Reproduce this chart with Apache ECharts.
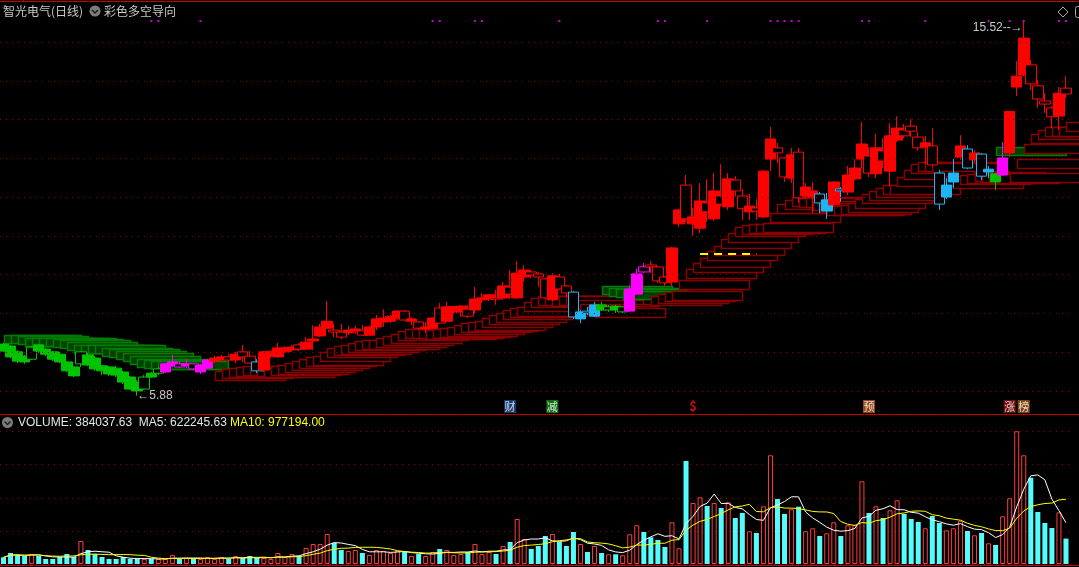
<!DOCTYPE html>
<html><head><meta charset="utf-8">
<script src="https://cdn.jsdelivr.net/npm/echarts/dist/echarts.min.js"></script>
<style>html,body{margin:0;padding:0;background:#000;}#c{width:1079px;height:567px;}</style>
</head><body><div id="c"></div>
<script>
// ---------------- data ----------------
const opens = [
7.21,7.16,7.01,6.90,6.82,7.19,7.08,7.01,6.95,6.75,
6.62,6.70,6.93,6.85,6.65,6.62,6.59,6.49,6.36,6.23,
6.05,6.46,6.46,6.49,6.65,6.70,6.65,6.70,6.49,6.59,
6.77,6.80,6.88,6.80,7.01,6.90,6.75,6.54,6.90,6.88,
7.01,7.06,7.19,7.08,7.29,7.42,7.62,7.57,7.52,7.50,
7.55,7.55,7.44,7.65,7.78,7.80,7.88,8.06,7.80,7.78,
7.60,7.62,8.14,7.80,8.04,8.04,8.11,8.09,8.35,8.37,
8.40,8.40,8.68,8.40,8.94,9.07,9.02,8.89,8.35,8.94,
8.71,8.55,7.86,8.06,7.93,8.22,8.09,8.19,8.04,8.06,
8.50,9.20,9.25,9.20,8.94,8.81,10.31,11.31,10.31,10.20,
10.85,10.44,11.03,10.75,11.44,11.03,10.62,10.72,10.49,11.98,
12.27,12.01,11.49,12.16,11.03,11.00,11.08,10.64,10.80,11.21,
11.13,11.47,11.98,12.06,11.60,12.19,11.67,12.47,12.73,12.83,
12.55,12.29,12.32,11.62,11.00,11.39,12.03,12.24,11.96,12.11,
11.65,11.60,11.57,12.14,13.84,14.15,14.41,13.87,13.48,13.30,
13.09,13.81];
const closes = [
7.03,6.88,6.77,6.75,7.13,7.03,6.95,6.82,6.75,6.52,
6.39,7.01,6.67,6.57,6.52,6.44,6.41,6.23,6.05,6.00,
6.36,6.36,6.57,6.70,6.75,6.62,6.70,6.57,6.67,6.80,
6.85,6.88,6.80,6.95,6.88,6.72,6.52,7.01,7.01,7.11,
7.11,7.13,7.08,7.26,7.34,7.65,7.80,7.52,7.39,7.57,
7.60,7.44,7.65,7.86,7.88,7.93,8.06,7.83,7.86,7.62,
7.65,7.88,7.75,8.17,8.17,8.19,7.93,8.37,8.40,8.48,
8.37,8.71,8.50,9.04,9.12,8.99,8.94,8.40,8.97,8.63,
8.53,7.91,8.04,8.01,8.22,8.09,8.17,8.09,8.17,8.63,
9.02,9.07,9.20,8.84,8.79,9.69,10.67,10.44,10.49,10.90,
10.62,11.16,10.82,11.47,11.16,10.70,10.77,10.64,11.67,12.50,
12.14,11.52,12.09,10.98,11.26,11.16,10.85,10.93,11.39,11.16,
11.57,11.75,12.37,11.62,12.27,11.93,12.58,12.78,12.58,12.70,
12.27,12.40,11.83,10.82,11.31,11.62,12.32,11.75,12.14,11.54,
11.72,11.39,12.01,13.21,14.12,15.10,13.92,13.53,13.40,13.07,
13.68,13.66];
const lows = [
7.01,6.85,6.72,6.70,6.80,6.98,6.90,6.77,6.72,6.49,
6.36,6.62,6.65,6.52,6.41,6.39,6.36,6.18,6.03,5.88,
6.03,6.34,6.41,6.46,6.62,6.59,6.59,6.54,6.44,6.57,
6.72,6.75,6.75,6.72,6.75,6.70,6.46,6.49,6.85,6.85,
6.98,7.01,7.03,7.06,7.06,7.39,7.60,7.39,7.34,7.44,
7.47,7.42,7.42,7.57,7.65,7.75,7.83,7.80,7.70,7.57,
7.50,7.60,7.73,7.78,7.99,7.91,7.88,8.01,8.27,8.32,
8.22,8.35,8.37,8.37,8.81,8.91,8.68,8.37,8.32,8.60,
8.42,7.86,7.75,7.96,7.91,8.06,8.04,8.01,8.01,8.04,
8.48,9.04,9.04,8.79,8.71,8.71,10.23,10.36,10.00,10.07,
10.36,10.39,10.75,10.67,11.01,10.41,10.41,10.41,10.46,11.67,
11.88,11.39,11.36,10.85,10.95,10.59,10.59,10.44,10.75,10.88,
11.05,11.42,11.75,11.52,11.49,11.75,11.28,12.42,12.53,12.55,
12.19,11.85,11.80,10.67,10.95,11.23,11.96,11.72,11.90,11.44,
11.49,11.18,11.54,12.03,13.61,14.12,13.76,13.30,13.17,12.78,
12.73,13.55];
const highs = [
7.24,7.19,7.06,6.93,7.16,7.21,7.11,7.03,7.01,6.77,
6.65,7.03,6.98,6.90,6.67,6.65,6.65,6.52,6.39,6.28,
6.41,6.49,6.62,6.72,6.93,6.77,6.82,6.72,6.70,6.82,
6.90,6.93,6.95,7.01,7.19,7.03,6.82,7.03,7.06,7.24,
7.16,7.19,7.24,7.39,7.70,7.73,8.32,7.73,7.73,7.68,
7.68,7.70,7.68,7.96,8.11,7.96,8.09,8.09,7.91,7.80,
7.78,7.91,8.27,8.30,8.19,8.22,8.22,8.68,8.53,8.50,
8.60,8.81,9.12,9.35,9.25,9.12,9.07,8.91,9.04,9.02,
8.73,8.58,8.09,8.17,8.30,8.30,8.22,8.22,8.19,8.73,
9.15,9.30,9.35,9.22,8.97,9.72,10.70,11.57,10.72,11.36,
11.46,11.62,11.85,11.62,11.54,11.21,11.08,10.95,11.70,12.81,
12.40,12.03,12.27,12.27,11.36,11.39,11.13,11.11,11.42,11.26,
11.80,11.98,12.94,12.29,12.63,12.52,12.91,13.09,12.89,13.01,
12.68,12.58,12.78,11.70,11.49,11.98,12.60,12.34,12.21,12.14,
11.80,11.62,12.42,13.22,14.51,15.52,14.54,14.02,13.68,13.35,
13.84,14.12];
// regime of the 彩色多空导向 indicator per bar: G bear, M turning, R bull, C weak
const states = (
"GGGGGGGGGG"+"GGGGGGGGGG"+"GGGMMMMMMM"+"RRRRRRCRRR"+"RRRRRRRRRR"+
"RRRRRRRRRR"+"RRRRRRRRRR"+"RRRRRRRRRR"+"RCCCCGGGGM"+"MMRRRRRRRR"+
"RRRRRRRRRR"+"RRRRRRCCRC"+"RRRRRRRRRR"+"RRRCCCRCRC"+"CGMRRRRRRR"+"RR").split("");
const volumes = [
101170,166100,140430,120800,151000,120800,75500,75500,105700,151000,
105700,347300,211400,151000,105700,75500,75500,105700,75500,75500,
75500,75500,75500,75500,135900,75500,90600,75500,75500,105700,
75500,105700,75500,120800,90600,120800,90600,90600,75500,166100,
105700,151000,120800,241600,302000,302000,453000,317100,211400,196300,
211400,166100,135900,211400,196300,166100,196300,181200,120800,151000,
120800,181200,226500,211400,135900,151000,181200,302000,151000,181200,
151000,271800,332200,679500,377500,226500,271800,422800,453000,332200,
271800,483200,302000,181200,271800,166100,146470,146470,131370,448470,
584370,483200,403170,362400,256700,629670,237070,1555300,921100,1007170,
875800,921100,845600,931670,694600,770100,493770,468100,871270,1641370,
981500,755000,825970,865230,493770,539070,422800,463570,629670,422800,
584370,584370,1248770,770100,871270,694600,810870,961870,755000,679500,
634200,539070,724800,619100,508870,539070,653830,498300,433370,468100,
312570,286900,720270,992070,2003871.85,1641370,1303130,785200,619100,543600,
779290.52,384037.63];
const categories = opens.map((_, i) => String(i + 1));
const priceTicks = [6, 7, 8, 9, 10, 11, 12, 13, 14, 15];
const signalBars = [21,22,28,61,62,67,68,79,93,94,100,109,110,111,112,113,122,123,131,140,143,145,150,151];
const eventBars = [72, 78, 98, 123, 143, 145];
const eventTexts = ['财', '减', '$', '预', '涨', '榜'];
const gapSegment = {from: 99, to: 107, price: 9.53};

// ---------------- styling / derived ----------------
const N = categories.length;
const COL = {G: '#00c400', M: '#ff00ff', R: '#ff0000', C: '#1cb6f5'};
const GRIDC = '#9a0000';
function candleStyle(i) {
  const s = states[i], up = closes[i] >= opens[i], col = COL[s];
  const hollow = s === 'G' ? up : !up;
  const fill = hollow ? '#000' : col;
  return {color: fill, color0: fill, borderColor: col, borderColor0: col, borderColorDoji: col, borderWidth: 1};
}
const candleData = opens.map((o, i) => ({value: [o, closes[i], lows[i], highs[i]], itemStyle: candleStyle(i)}));
const volData = volumes.map((v, i) => {
  const up = closes[i] >= opens[i];
  return {value: v, itemStyle: up ? {color: 'rgba(0,0,0,0)', borderColor: '#ff3c3c', borderWidth: 1} : {color: '#54fcfc', borderWidth: 0}};
});
function ma(n) {
  return volumes.map((v, i) => {
    const s = Math.max(0, i - n + 1); let t = 0;
    for (let k = s; k <= i; k++) t += volumes[k];
    return t / (i - s + 1);
  });
}
const ma5 = ma(5), ma10 = ma(10);
function ema(arr, n) {
  const a = 2 / (n + 1); const out = []; let e = arr[0];
  arr.forEach((v, i) => { e = i === 0 ? v : e + a * (v - e); out.push(e); });
  return out;
}
const emaLow = ema(lows, 10), emaHigh = ema(highs, 10);
const ladderData = [];
states.forEach((s, i) => {
  if (s === 'R' || s === 'C') ladderData.push([i, emaLow[i], 1]);
  else if (s === 'G') ladderData.push([i, emaHigh[i], -1]);
});
const LADDER_LEN = 10;
function renderLadder(params, api) {
  const i = api.value(0), lvl = api.value(1), kind = api.value(2);
  const p0 = api.coord([i, lvl]);
  const bw = api.size([1, 0])[0];
  const x0 = Math.round(p0[0]) + 0.5;
  const x1 = Math.min(x0 + Math.round(LADDER_LEN * bw), 1080.5);
  const h = kind > 0 ? 9 : 8;
  const y = Math.round(kind > 0 ? p0[1] : p0[1] - h) + 0.5;
  return {
    type: 'rect',
    shape: {x: x0, y: y, width: x1 - x0, height: h},
    style: kind > 0 ? {fill: '#000', stroke: '#8a0000', lineWidth: 1.5} : {fill: '#003f00', stroke: '#007c00', lineWidth: 1.5}
  };
}
let minIdx = 0, maxIdx = 0;
lows.forEach((v, i) => { if (v < lows[minIdx]) minIdx = i; });
highs.forEach((v, i) => { if (v > highs[maxIdx]) maxIdx = i; });
const last = N - 1;
const volText = 'VOLUME: ' + volumes[last].toFixed(2) + '  MA5: ' + ma5[last].toFixed(2);
const ma10Text = 'MA10: ' + ma10[last].toFixed(2);
const EVC = {'财': '#1d4a8c', '减': '#158a1c', '$': 'rgba(0,0,0,0)', '预': '#b9571b', '涨': '#8c1414', '榜': '#9c5414'};
const eventData = eventBars.map((b, k) => ({
  value: [categories[b], 0.0183],
  itemStyle: {color: EVC[eventTexts[k]]},
  label: {show: true, position: 'inside', formatter: eventTexts[k],
    color: eventTexts[k] === '$' ? '#ff1010' : '#ffffff',
    fontSize: eventTexts[k] === '$' ? 13 : 11, fontWeight: eventTexts[k] === '$' ? 'bold' : 'normal',
    fontFamily: 'Noto Sans CJK SC'}
}));
const signalData = signalBars.map(b => [categories[b], 0.9585]);

const gridMarks = priceTicks.map(p => ({yAxis: p, lineStyle: {color: GRIDC, type: [1, 5], width: 1}}));
gridMarks.push([
  {coord: [categories[gapSegment.from], gapSegment.price], lineStyle: {color: '#ffff00', type: [8, 6], width: 2}},
  {coord: [categories[gapSegment.to], gapSegment.price]}
]);

const font12 = '12px "Liberation Sans", Arial, sans-serif';
const cjk12 = '12px "Noto Sans CJK SC", sans-serif';
const option = {
  backgroundColor: '#000',
  animation: false,
  grid: [
    {left: 0, width: 1069.5, top: 4, height: 410},
    {left: 0, width: 1069.5, top: 414, height: 150}
  ],
  xAxis: [
    {type: 'category', data: categories, gridIndex: 0, show: false, boundaryGap: true},
    {type: 'category', data: categories, gridIndex: 1, show: false, boundaryGap: true}
  ],
  yAxis: [
    {type: 'value', gridIndex: 0, min: 5.407, max: 15.98, show: false, splitLine: {show: false}},
    {type: 'value', gridIndex: 0, min: 0, max: 1, show: false, splitLine: {show: false}},
    {type: 'value', gridIndex: 1, min: 0, max: 2265000, interval: 500000,
      axisLine: {show: false}, axisTick: {show: false}, axisLabel: {show: false},
      splitLine: {show: true, lineStyle: {color: GRIDC, type: [1, 5], width: 1}}}
  ],
  series: [
    {type: 'custom', name: 'ladder', xAxisIndex: 0, yAxisIndex: 0, z: 1, silent: true,
      renderItem: renderLadder, data: ladderData, encode: {x: 0, y: 1}},
    {type: 'line', name: 'grid', xAxisIndex: 0, yAxisIndex: 0, z: 2, silent: true,
      data: categories.map(() => null), symbol: 'none', lineStyle: {opacity: 0},
      markLine: {silent: true, symbol: 'none', label: {show: false}, animation: false, data: gridMarks}},
    {type: 'candlestick', name: 'K', xAxisIndex: 0, yAxisIndex: 0, z: 3, barWidth: 11,
      data: candleData,
      markPoint: {symbol: 'circle', symbolSize: 0, animation: false, data: [
        {coord: [categories[minIdx], lows[minIdx]], value: lows[minIdx],
          label: {show: true, position: 'right', distance: 0, formatter: '←' + lows[minIdx].toFixed(2),
            color: '#c8c8c8', fontSize: 12, fontFamily: 'Liberation Sans'}},
        {coord: [categories[maxIdx], highs[maxIdx]], value: highs[maxIdx],
          label: {show: true, position: 'left', distance: 1, offset: [0, 6], formatter: highs[maxIdx].toFixed(2) + '--→',
            color: '#c8c8c8', fontSize: 12, fontFamily: 'Liberation Sans'}}
      ]}},
    {type: 'scatter', name: 'signal', xAxisIndex: 0, yAxisIndex: 1, z: 4, silent: true,
      symbol: 'rect', symbolSize: 2, itemStyle: {color: '#ff00ff'}, data: signalData},
    {type: 'scatter', name: 'events', xAxisIndex: 0, yAxisIndex: 1, z: 4, silent: true,
      symbol: 'rect', symbolSize: [12, 13], data: eventData},
    {type: 'bar', name: 'VOLUME', xAxisIndex: 1, yAxisIndex: 2, barWidth: 5, z: 2, data: volData},
    {type: 'line', name: 'MA5', xAxisIndex: 1, yAxisIndex: 2, z: 3, data: ma5, symbol: 'none',
      lineStyle: {color: '#ffffff', width: 1}},
    {type: 'line', name: 'MA10', xAxisIndex: 1, yAxisIndex: 2, z: 3, data: ma10, symbol: 'none',
      lineStyle: {color: '#ffff00', width: 1}}
  ],
  graphic: [
    {type: 'line', shape: {x1: 0, y1: 1.5, x2: 1079, y2: 1.5}, style: {stroke: '#c80000', lineWidth: 1}},
    {type: 'line', shape: {x1: 23.5, y1: 0, x2: 23.5, y2: 2}, style: {stroke: '#c80000', lineWidth: 1}},
    {type: 'line', shape: {x1: 0, y1: 414.5, x2: 1079, y2: 414.5}, style: {stroke: '#c80000', lineWidth: 1}},
    {type: 'line', shape: {x1: 0, y1: 565.5, x2: 1079, y2: 565.5}, style: {stroke: '#c80000', lineWidth: 1}},
    {type: 'text', x: 3, y: 11, style: {text: '智光电气(日线)', fill: '#c8c8c8', font: cjk12, verticalAlign: 'middle'}},
    {type: 'circle', shape: {cx: 95, cy: 11, r: 5.5}, style: {fill: '#7c7c7c'}},
    {type: 'polyline', shape: {points: [[92, 10], [95, 13], [98, 10]]}, style: {stroke: '#1c1c1c', lineWidth: 1.5, fill: null}},
    {type: 'text', x: 104, y: 11, style: {text: '彩色多空导向', fill: '#c8c8c8', font: cjk12, verticalAlign: 'middle'}},
    {type: 'circle', shape: {cx: 7.5, cy: 422.5, r: 5.5}, style: {fill: '#7c7c7c'}},
    {type: 'polyline', shape: {points: [[4.5, 421.5], [7.5, 424.5], [10.5, 421.5]]}, style: {stroke: '#1c1c1c', lineWidth: 1.5, fill: null}},
    {type: 'text', x: 18, y: 422.5, style: {text: volText, fill: '#e6e6e6', font: font12, verticalAlign: 'middle'}},
    {type: 'text', x: 230, y: 422.5, style: {text: ma10Text, fill: '#ffff00', font: font12, verticalAlign: 'middle'}},
    {type: 'polygon', shape: {points: [[1063, 7], [1068, 12], [1063, 17], [1058, 12]]}, style: {stroke: '#a8a8a8', fill: null, lineWidth: 1}},
    {type: 'rect', shape: {x: 1075.5, y: 6.5, width: 8, height: 11, r: 2}, style: {stroke: '#a8a8a8', fill: null, lineWidth: 1}}
  ]
};
const chart = echarts.init(document.getElementById('c'));
chart.setOption(option);
</script>
</body></html>
